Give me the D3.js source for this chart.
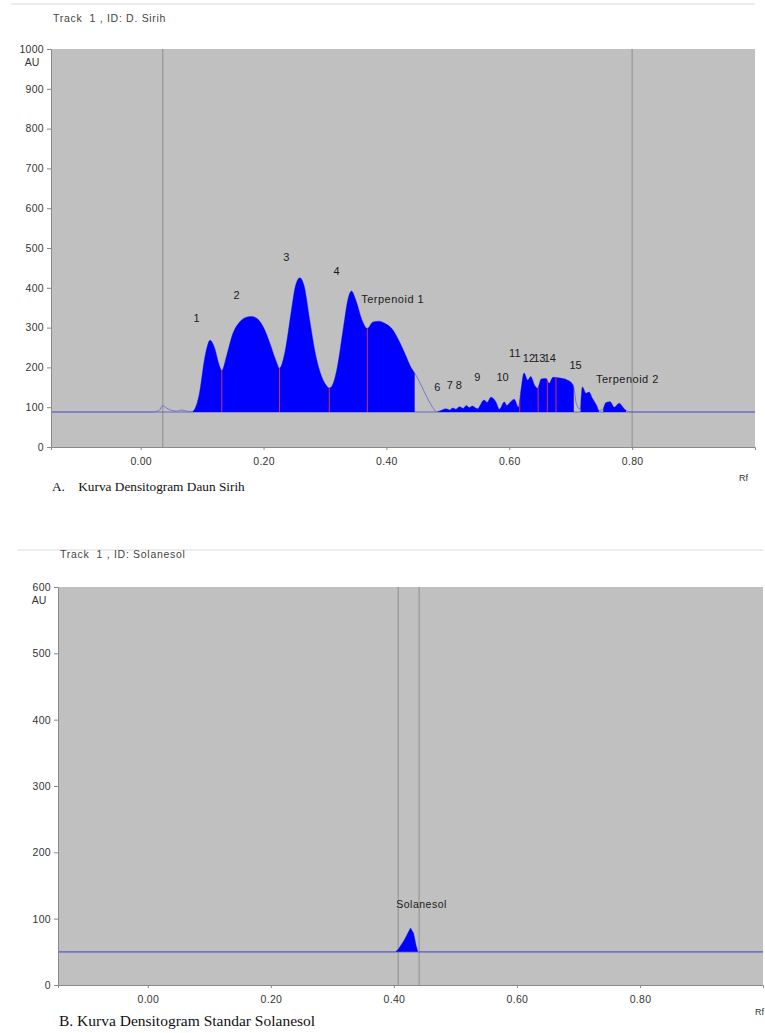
<!DOCTYPE html>
<html>
<head>
<meta charset="utf-8">
<script src="https://cdn.jsdelivr.net/npm/d3@7"></script>
<style>
body { margin: 0; background: #fff; }
svg text { font-family: "Liberation Sans", Arial, sans-serif; }
</style>
</head>
<body>
<svg class="densito" width="765" height="1033"></svg>
<script>
// ---- panel A : daun sirih ----
const rfA = [-0.146, 0.02, 0.03, 0.036, 0.042, 0.05, 0.06, 0.066, 0.072, 0.08,
  0.085, 0.095, 0.105, 0.113, 0.12, 0.128, 0.132, 0.14, 0.15, 0.16, 0.17, 0.18, 0.19, 0.20, 0.21, 0.22,
  0.226, 0.235, 0.245, 0.252, 0.259, 0.266, 0.275, 0.285, 0.295, 0.302, 0.307, 0.312, 0.32, 0.33, 0.338,
  0.343, 0.35, 0.36, 0.369, 0.378, 0.388, 0.398, 0.41, 0.42, 0.43, 0.44, 0.446, 0.455, 0.465, 0.475, 0.481,
  0.486, 0.497, 0.503, 0.508, 0.513, 0.519, 0.525, 0.530, 0.535, 0.540, 0.548, 0.559, 0.564, 0.570, 0.578,
  0.584, 0.592, 0.596, 0.600, 0.608, 0.615, 0.619, 0.624, 0.630, 0.635, 0.641, 0.646, 0.652, 0.660, 0.665,
  0.671, 0.679, 0.687, 0.695, 0.702, 0.705, 0.709, 0.715, 0.719, 0.725, 0.730, 0.735, 0.742, 0.746, 0.752,
  0.757, 0.764, 0.771, 0.779, 0.785, 0.790, 0.80, 1.0]
const auA = [88, 88, 92, 104, 98, 92, 90, 93, 91, 89,
  90, 130, 230, 268, 250, 205, 192, 230, 285, 312, 325, 328, 322, 300, 262, 218,
  198, 240, 340, 405, 425, 405, 320, 230, 175, 155, 148, 155, 200, 300, 375,
  392, 370, 320, 298, 314, 316, 310, 295, 268, 235, 200, 186, 160, 128, 100, 89,
  90, 96, 93, 98, 95, 101, 97, 104, 99, 103, 96, 118, 112, 125, 114,
  95, 113, 104, 110, 120, 100, 143, 186, 168, 177, 156, 148, 171, 172, 160,
  175, 174, 172, 168, 160, 150, 110, 95, 151, 135, 138, 123, 105, 92, 94,
  111, 114, 100, 110, 100, 92, 88, 88]
const fillA = [[0.085, 0.446], [0.484, 0.705], [0.716, 0.746], [0.753, 0.790]]
const splitA = [0.132, 0.226, 0.307, 0.369, 0.617, 0.647, 0.662, 0.676]
const labelsA = ["1", "2", "3", "4", "Terpenoid 1", "6", "7", "8", "9", "10", "11", "12", "13", "14", "15", "Terpenoid 2"]
const labelRfA = [0.091, 0.156, 0.237, 0.319, 0.359, 0.483, 0.503, 0.518, 0.548, 0.589, 0.609, 0.632, 0.649, 0.666, 0.708, 0.741]
const labelAuA = [324, 382, 477, 442, 372, 151, 156, 156, 175, 175, 237, 222, 222, 222, 206, 170]
const markersA = [0.036, 0.80]
const yTicksA = [0, 100, 200, 300, 400, 500, 600, 700, 800, 900, 1000]

// ---- panel B : standar solanesol ----
const rfB = [-0.146, 0.403, 0.408, 0.417, 0.427, 0.432, 0.436, 0.439, 1.0]
const auB = [50, 50, 55, 68, 86, 78, 60, 50, 50]
const fillB = [[0.403, 0.439]]
const labelsB = ["Solanesol"]
const labelRfB = [0.445]
const labelAuB = [121]
const markersB = [0.407, 0.441]
const yTicksB = [0, 100, 200, 300, 400, 500, 600]

const xTicks = [0, 0.2, 0.4, 0.6, 0.8]
const baseA = 88
const baseB = 50

const svg = d3.select("svg.densito")

function drawPanel(p) {
    const g = svg.append("g")

    const x = d3.scaleLinear().domain([-0.146, 1.0]).range([p.left, p.right])
    const y = d3.scaleLinear().domain([0, p.max]).range([p.bottom, p.top])

    // faint rule + track header
    g.append("line")
        .attr("x1", p.left - 40).attr("x2", p.right)
        .attr("y1", p.ruleY).attr("y2", p.ruleY)
        .attr("stroke", "#ececec").attr("stroke-width", 2)
    g.append("text")
        .attr("x", p.left + 2).attr("y", p.trackY)
        .style("font-size", "10.5px").style("letter-spacing", "0.7px")
        .attr("fill", "#444")
        .attr("xml:space", "preserve")
        .text(p.track)

    g.append("rect")
        .attr("x", p.left).attr("y", p.top)
        .attr("width", p.right - p.left).attr("height", p.bottom - p.top)
        .attr("fill", "#c0c0c0")

    // grey marker lines
    g.selectAll("line.marker")
        .data(p.markers)
        .enter()
        .append("line")
        .attr("class", "marker")
        .attr("x1", d => x(d)).attr("x2", d => x(d))
        .attr("y1", p.top).attr("y2", p.bottom)
        .attr("stroke", "#8e8e8e").attr("stroke-width", 1)

    const pts = p.rf.map((r, i) => [r, p.au[i]])
    const id = p.id

    const area = d3.area()
        .x(d => x(d[0]))
        .y0(y(p.base))
        .y1(d => y(d[1]))
        .curve(p.curve)

    const line = d3.line()
        .x(d => x(d[0]))
        .y(d => y(d[1]))
        .curve(p.curve)

    // clip for integrated peaks
    const clip = svg.append("clipPath").attr("id", "fill" + id)
    clip.selectAll("rect")
        .data(p.fill)
        .enter()
        .append("rect")
        .attr("x", d => x(d[0]))
        .attr("width", d => x(d[1]) - x(d[0]))
        .attr("y", p.top)
        .attr("height", p.bottom - p.top)

    svg.append("clipPath").attr("id", "shape" + id)
        .append("path").attr("d", area(pts))

    // baseline
    g.append("line")
        .attr("x1", p.left).attr("x2", p.right)
        .attr("y1", y(p.base)).attr("y2", y(p.base))
        .attr("stroke", "#6a6ab8").attr("stroke-width", 1.2)

    // raw signal
    g.append("path")
        .attr("d", line(pts))
        .attr("fill", "none")
        .attr("stroke", "#6c6cd0")
        .attr("stroke-width", 0.9)

    g.append("path")
        .attr("d", area(pts))
        .attr("fill", "#0000ff")
        .attr("clip-path", "url(#fill" + id + ")")

    // peak boundaries
    g.append("g")
        .attr("clip-path", "url(#shape" + id + ")")
        .selectAll("line")
        .data(p.split)
        .enter()
        .append("line")
        .attr("x1", d => x(d)).attr("x2", d => x(d))
        .attr("y1", p.top).attr("y2", y(p.base))
        .attr("stroke", "#c8306e").attr("stroke-width", 1)

    // peak labels
    const isTerp = d => d.startsWith("Terp")
    g.selectAll("text.peak")
        .data(p.labels)
        .enter()
        .append("text")
        .attr("class", "peak")
        .attr("x", (d, i) => x(p.labelRf[i]))
        .attr("y", (d, i) => y(p.labelAu[i]))
        .attr("dy", "0.35em")
        .attr("text-anchor", d => isTerp(d) ? "start" : "middle")
        .style("font-size", p.labelSize)
        .style("letter-spacing", d => d.length > 2 ? "0.5px" : null)
        .attr("fill", "#1a1a1a")
        .text(d => d)

    // axes
    const yAxis = g.append("g")
        .attr("transform", `translate(${p.left},0)`)
        .call(d3.axisLeft(y).tickValues(p.yTicks).tickSize(4).tickPadding(3).tickFormat(d3.format("d")))
    const xAxis = g.append("g")
        .attr("transform", `translate(0,${p.bottom})`)
        .call(d3.axisBottom(x).tickValues(xTicks).tickSize(3).tickPadding(8).tickFormat(d3.format(".2f")))

    ;[yAxis, xAxis].forEach(a => {
        a.select(".domain").attr("stroke", "#8a8a8a")
        a.selectAll(".tick line").attr("stroke", "#8a8a8a")
        a.selectAll("text").attr("fill", "#333").style("font-size", "10.5px")
            .style("letter-spacing", "0.3px")
            .style("font-family", "'Liberation Sans', Arial, sans-serif")
    })

    g.append("text")
        .attr("x", p.left - 19).attr("y", p.top + 17)
        .attr("text-anchor", "middle")
        .style("font-size", "10.5px").attr("fill", "#333")
        .text("AU")

    g.append("text")
        .attr("x", p.rfX).attr("y", p.rfY)
        .style("font-size", "9px").attr("fill", "#333")
        .text("Rf")

    g.append("text")
        .attr("x", p.left + 1).attr("y", p.captionY)
        .attr("xml:space", "preserve")
        .style("font-family", "'Liberation Serif', 'Times New Roman', serif")
        .style("font-size", p.captionSize)
        .attr("fill", "#111")
        .text(p.caption)
}

drawPanel({
    id: "A", track: "Track  1 , ID: D. Sirih", ruleY: 4, trackY: 22,
    left: 51, right: 755, top: 49, bottom: 447, max: 1000,
    rf: rfA, au: auA, base: baseA, fill: fillA, split: splitA,
    labels: labelsA, labelRf: labelRfA, labelAu: labelAuA, labelSize: "11px",
    markers: markersA, yTicks: yTicksA, curve: d3.curveMonotoneX,
    rfX: 739, rfY: 481,
    caption: "A.    Kurva Densitogram Daun Sirih", captionY: 491, captionSize: "13.3px"
})

drawPanel({
    id: "B", track: "Track  1 , ID: Solanesol", ruleY: 550, trackY: 558,
    left: 58, right: 763, top: 587, bottom: 985, max: 600,
    rf: rfB, au: auB, base: baseB, fill: fillB, split: [],
    labels: labelsB, labelRf: labelRfB, labelAu: labelAuB, labelSize: "10.5px",
    markers: markersB, yTicks: yTicksB, curve: d3.curveLinear,
    rfX: 755, rfY: 1015,
    caption: "B. Kurva Densitogram Standar Solanesol", captionY: 1026, captionSize: "15.5px"
})
</script>
</body>
</html>
